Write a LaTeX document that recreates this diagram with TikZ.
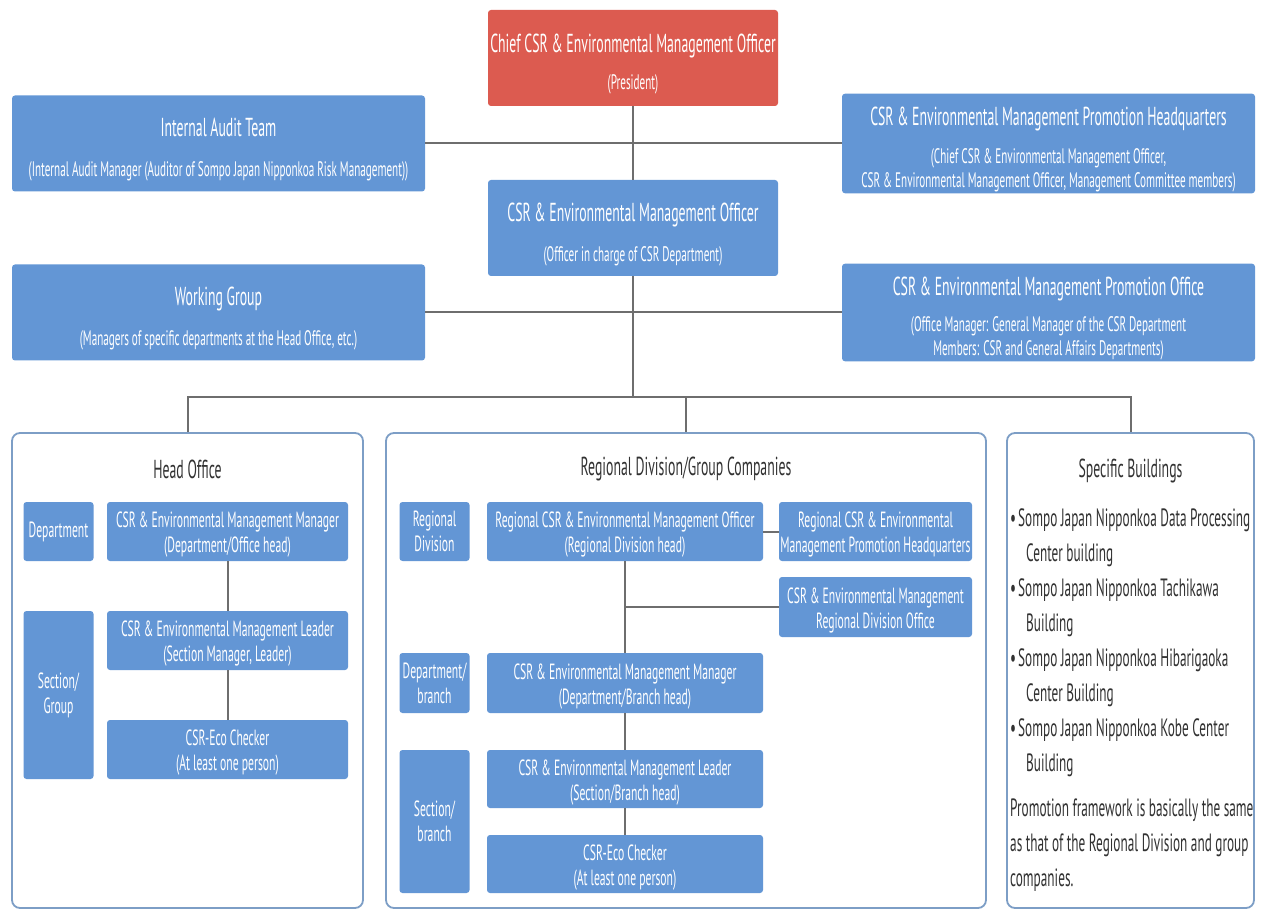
\documentclass[tikz,border=0pt]{standalone}
\usepackage{fontspec}
\setmainfont{PT Sans}[FakeStretch=0.53]
\definecolor{boxblue}{RGB}{99,150,213}
\definecolor{boxred}{RGB}{220,91,80}
\definecolor{linegray}{RGB}{110,110,110}
\definecolor{panelblue}{RGB}{125,158,198}
\definecolor{darktext}{RGB}{50,50,50}
\newcommand{\ttl}{\fontsize{26}{30}\selectfont\rule{0pt}{31pt}}
\newcommand{\subt}{\fontsize{21}{24}\selectfont}
\newcommand{\inn}{\fontsize{22}{25}\selectfont}
\newcommand{\lst}{\fontsize{25}{35}\selectfont}
\newcommand{\instrut}{\rule{0pt}{22pt}}
\newcommand{\bul}{\textbullet\kern2pt}
\tikzset{
  unit/.style={fill=boxblue, text=white, rounded corners=3pt, align=center, inner sep=1pt},
  top/.style={unit, font=\subt},
  head/.style={top, minimum width=413, minimum height=96},
  inbox/.style={unit, font=\inn},
  tag/.style={inbox, minimum width=70},
  panel/.style={draw=panelblue, line width=1.8pt, fill=white, rounded corners=8pt, minimum height=475},
  ptitle/.style={text=darktext, font=\fontsize{26}{30}\selectfont},
  conn/.style={draw=linegray, line width=2pt}
}
\begin{document}
\begin{tikzpicture}[x=1pt,y=-1pt]
\useasboundingbox (0,0) rectangle (1262,917);

\node[top, fill=boxred, minimum width=290, minimum height=96] (chief) at (633,58)
  {{\ttl Chief CSR \& Environmental Management Officer}\\[13pt](President)};
\node[head] (audit) at (218.5,143.5)
  {{\ttl Internal Audit Team}\\[16pt](Internal Audit Manager (Auditor of Sompo Japan Nipponkoa Risk Management))};
\node[head] (hq) at (1048.5,143.5)
  {{\ttl CSR \& Environmental Management Promotion Headquarters}\\[14pt](Chief CSR \& Environmental Management Officer,\\CSR \& Environmental Management Officer, Management Committee members)};
\node[top, minimum width=290, minimum height=96] (officer) at (633,228)
  {{\ttl CSR \& Environmental Management Officer}\\[16pt](Officer in charge of CSR Department)};
\node[head] (working) at (218.5,312.5)
  {{\ttl Working Group}\\[16pt](Managers of specific departments at the Head Office, etc.)};
\node[head] (office) at (1048.5,312.5)
  {{\ttl CSR \& Environmental Management Promotion Office}\\[12pt](Office Manager: General Manager of the CSR Department\\Members: CSR and General Affairs Departments)};

\node[panel, minimum width=351] (ho) at (187.5,670.5) {};
\node[panel, minimum width=600] (rg) at (686,670.5) {};
\node[panel, minimum width=247] (sb) at (1130.5,670.5) {};

\coordinate (bus) at (633,397);
\draw[conn] (chief) -- (officer);
\draw[conn] (audit) -- (hq);
\draw[conn] (working) -- (office);
\draw[conn] (officer) -- (bus);
\draw[conn] (ho.north) |- (bus) -| (sb.north);
\draw[conn] (bus -| rg.north) -- (rg.north);

\node[ptitle] (hotitle) at (187.5,469) {Head Office};
\node[tag, minimum height=59] (hodep) at (58.5,531.5) {Department};
\node[inbox, minimum width=241, minimum height=59] (homgr) at (227.5,531.5)
  {\instrut CSR \& Environmental Management Manager\\(Department/Office head)};
\node[tag, minimum height=168] (hosec) at (58.5,695) {Section/\\Group};
\node[inbox, minimum width=241, minimum height=59] (holdr) at (227.5,640.5)
  {\instrut CSR \& Environmental Management Leader\\(Section Manager, Leader)};
\node[inbox, minimum width=241, minimum height=59] (hochk) at (227.5,749.5)
  {\instrut CSR-Eco Checker\\(At least one person)};
\draw[conn] (homgr) -- (holdr) -- (hochk);

\node[ptitle] (rgtitle) at (686,469) {Regional Division/Group Companies};
\node[tag, minimum height=59] (rgdiv) at (434.5,531.5) {Regional\\Division};
\node[inbox, minimum width=276, minimum height=59] (rgoff) at (625,531.5)
  {\instrut Regional CSR \& Environmental Management Officer\\(Regional Division head)};
\node[inbox, minimum width=193, minimum height=59] (rghq) at (875.5,531.5)
  {\instrut Regional CSR \& Environmental\\Management Promotion Headquarters};
\node[inbox, minimum width=193, minimum height=60] (rgro) at (875.5,607)
  {\instrut CSR \& Environmental Management\\Regional Division Office};
\node[tag, minimum height=60] (rgdep) at (434.5,683) {Department/\\branch};
\node[inbox, minimum width=276, minimum height=60] (rgmgr) at (625,683)
  {\instrut CSR \& Environmental Management Manager\\(Department/Branch head)};
\node[tag, minimum height=143] (rgsec) at (434.5,821.5) {Section/\\branch};
\node[inbox, minimum width=276, minimum height=58] (rgldr) at (625,779)
  {\instrut CSR \& Environmental Management Leader\\(Section/Branch head)};
\node[inbox, minimum width=276, minimum height=58] (rgchk) at (625,864)
  {\instrut CSR-Eco Checker\\(At least one person)};
\draw[conn] (rgoff) -- (rghq);
\draw[conn] (rgoff) -- (rgmgr) -- (rgldr) -- (rgchk);
\draw[conn] (rgoff.south |- rgro.west) -- (rgro.west);

\node[ptitle] (sbtitle) at (1130.5,471) {Specific Buildings};
\node[anchor=north west, align=left, text=darktext, font=\lst, inner sep=0pt] (sblist) at (1010,508)
  {\bul Sompo Japan Nipponkoa Data Processing\\
   \hspace*{16pt}Center building\\
   \bul Sompo Japan Nipponkoa Tachikawa\\
   \hspace*{16pt}Building\\
   \bul Sompo Japan Nipponkoa Hibarigaoka\\
   \hspace*{16pt}Center Building\\
   \bul Sompo Japan Nipponkoa Kobe Center\\
   \hspace*{16pt}Building\\[10pt]
   Promotion framework is basically the same\\
   as that of the Regional Division and group\\
   companies.};
\end{tikzpicture}
\end{document}
